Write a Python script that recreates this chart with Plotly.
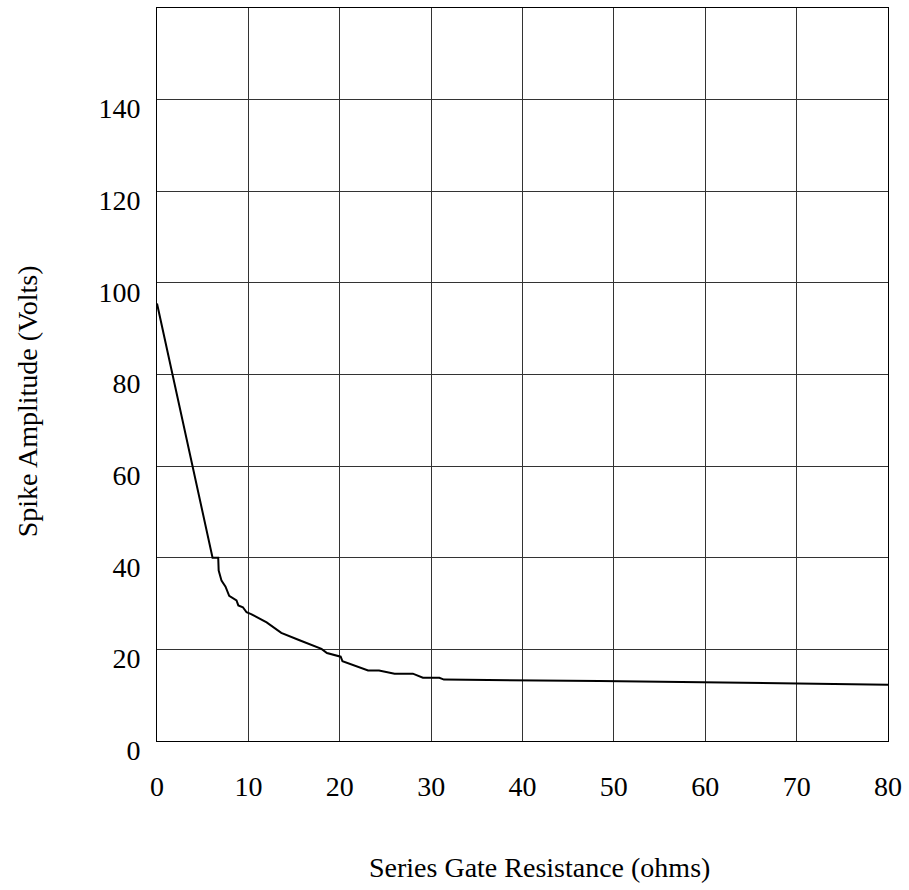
import plotly.graph_objects as go

resistance = [0, 6.08, 6.7, 6.75, 7.06, 7.5, 7.9, 8.7, 8.9, 9.4, 9.8, 10.3, 12.0, 13.6, 15.6,
              18.0, 18.6, 20.1, 20.3, 23.1, 24.3, 25.1, 26.0, 28.0, 29.1, 30.9, 31.4, 48.4, 80]
amplitude = [95.5, 40, 40, 37.2, 35.0, 33.7, 31.7, 30.7, 29.6, 29.2, 28.1, 27.7, 25.9, 23.6, 22.0,
             20.1, 19.2, 18.4, 17.4, 15.4, 15.4, 15.1, 14.7, 14.7, 13.8, 13.8, 13.4, 13.1, 12.3]

x_ticks = [0, 10, 20, 30, 40, 50, 60, 70, 80]
y_ticks = [0, 20, 40, 60, 80, 100, 120, 140]

font = dict(family="Liberation Serif, Times New Roman, serif", size=28, color="black")

fig = go.Figure()
fig.add_trace(go.Scatter(x=resistance, y=amplitude, mode="lines",
                         line=dict(color="black", width=2), showlegend=False))

fig.update_layout(
    width=909, height=890,
    margin=dict(l=157, r=19, t=7, b=149),
    paper_bgcolor="white", plot_bgcolor="white",
    font=font,
    xaxis=dict(range=[0, 80], tickvals=x_ticks, ticktext=[str(v) for v in x_ticks],
               showgrid=True, gridcolor="#333", gridwidth=1, zeroline=False,
               showline=True, linecolor="black", linewidth=1, mirror=True,
               ticks="", ticklabelstandoff=20),
    yaxis=dict(range=[0, 160], tickvals=y_ticks, ticktext=[str(v) for v in y_ticks],
               showgrid=True, gridcolor="#333", gridwidth=1, zeroline=False,
               showline=True, linecolor="black", linewidth=1, mirror=True,
               ticks="", ticklabelstandoff=10, ticklabelshift=9),
    annotations=[
        dict(text="Spike Amplitude (Volts)", x=-0.177, xref="paper", xanchor="center",
             y=0.463, yref="paper", yanchor="middle", textangle=-90, showarrow=False,
             font=font),
        dict(text="Series Gate Resistance (ohms)", x=0.523, xref="paper", xanchor="center",
             y=-0.173, yref="paper", yanchor="middle", showarrow=False, font=font),
    ],
)
fig.write_html("out.html",
               config={"displayModeBar": False},
               post_script="document.body.style.margin='0';document.body.style.overflow='hidden';")
